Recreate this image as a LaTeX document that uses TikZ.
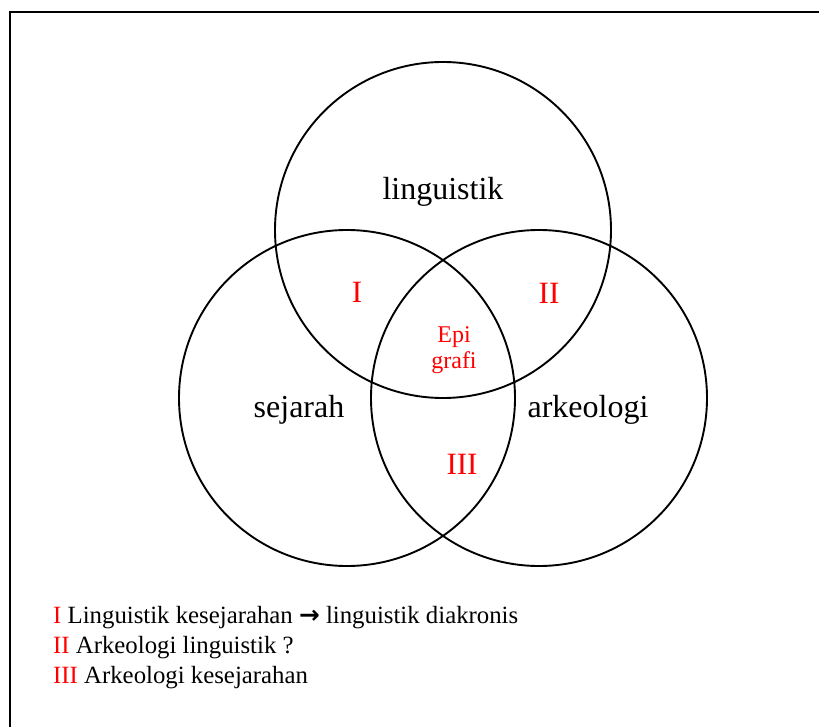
\documentclass[tikz,border=0pt]{standalone}
\usepackage{fontspec}
\setmainfont{Liberation Serif}
\newfontfamily\arrowfont{DejaVu Sans}
\tikzset{
  circ/.style={draw=black, line width=1.9pt},
  biglabel/.style={anchor=base, inner sep=0pt, font=\fontsize{32}{38}\selectfont},
  numlabel/.style={anchor=base, inner sep=0pt, text=red, font=\fontsize{31}{38}\selectfont},
  smalllabel/.style={anchor=base, inner sep=0pt, text=red, font=\fontsize{24}{26}\selectfont},
  legend/.style={anchor=base west, inner sep=0pt, font=\fontsize{24.8}{30}\selectfont},
}
\begin{document}
\begin{tikzpicture}[x=1pt,y=-1pt]
\useasboundingbox (0,0) rectangle (819,727);
\draw[line width=2pt] (10,727) -- (10,12) -- (819,12);
% circles
\draw[circ] (443,230) circle[radius=168];
\draw[circ] (347,398) circle[radius=168];
\draw[circ] (539,398) circle[radius=168];
% labels
\node[biglabel] (ling) at (443,200) {linguistik};
\node[biglabel] (sej) at (299,417) {sejarah};
\node[biglabel] (ark) at (588,417) {arkeologi};
\node[numlabel] (one) at (357,302) {I};
\node[numlabel] (two) at (549,304) {II};
\node[numlabel] (three) at (462,474) {III};
\node[smalllabel] (epi) at (454,342) {Epi};
\node[smalllabel] (grafi) at (454,368) {grafi};
% legend
\node[legend] (l1) at (53,623) {\textcolor{red}{I} Linguistik kesejarahan {\arrowfont\bfseries →} linguistik diakronis};
\node[legend] (l2) at (53,653) {\textcolor{red}{II} Arkeologi linguistik ?};
\node[legend] (l3) at (53,683) {\textcolor{red}{III} Arkeologi kesejarahan};
\end{tikzpicture}
\end{document}
